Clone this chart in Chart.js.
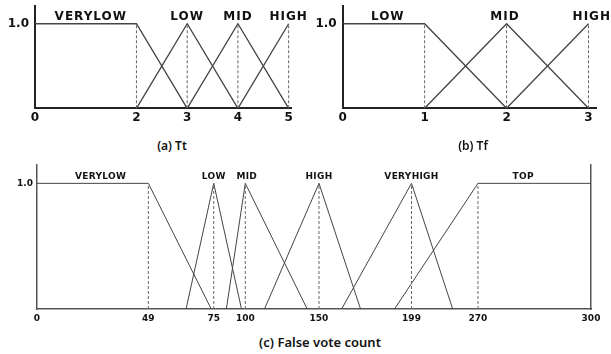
<!DOCTYPE html>
<html>
<head>
<meta charset="utf-8">
<script src="https://cdn.jsdelivr.net/npm/chart.js@4.4.0/dist/chart.umd.min.js"></script>
<style>
  body { margin: 0; background: #fff; width: 611px; height: 354px; position: relative; overflow: hidden; }
  canvas { position: absolute; }
  .cap { position: absolute; font-family: "Noto Sans", sans-serif; font-weight: 600; color: #111; white-space: nowrap; transform: translate(-50%, -50%); }
</style>
</head>
<body>
<canvas id="chartTt" width="320" height="130" style="left:0;top:0"></canvas>
<canvas id="chartTf" width="311" height="130" style="left:300px;top:0"></canvas>
<canvas id="chartVotes" width="611" height="175" style="left:0;top:155px"></canvas>
<div class="cap" style="left:172px;top:145px;font-size:12px">(a) Tt</div>
<div class="cap" style="left:473px;top:145px;font-size:12px">(b) Tf</div>
<div class="cap" style="left:320px;top:342px;font-size:13px">(c) False vote count</div>
<script>
// (a) Tt
const ttTicks = [0, 2, 3, 4, 5];
const ttNames = ['VERYLOW', 'LOW', 'MID', 'HIGH'];
const ttNameAt = [1.1, 3, 4, 5];
const ttVeryLowX = [0, 2, 3];
const ttVeryLowY = [1, 1, 0];
const ttLowX = [2, 3, 4];
const ttLowY = [0, 1, 0];
const ttMidX = [3, 4, 5];
const ttMidY = [0, 1, 0];
const ttHighX = [4, 5];
const ttHighY = [0, 1];
const ttGuides = [2, 3, 4, 5];

// (b) Tf
const tfTicks = [0, 1, 2, 3];
const tfNames = ['LOW', 'MID', 'HIGH'];
const tfNameAt = [0.55, 1.98, 3.04];
const tfLowX = [0, 1, 2];
const tfLowY = [1, 1, 0];
const tfMidX = [1, 2, 3];
const tfMidY = [0, 1, 0];
const tfHighX = [2, 3];
const tfHighY = [0, 1];
const tfGuides = [1, 2, 3];

// (c) False vote count
const fvTicks = [0, 49, 75, 100, 150, 199, 270, 300];
const fvNames = ['VERYLOW', 'LOW', 'MID', 'HIGH', 'VERYHIGH', 'TOP'];
const fvNameAt = [28, 75, 101, 150, 199, 282];
const fvVeryLowX = [0, 49, 74];
const fvVeryLowY = [1, 1, 0];
const fvLowX = [64, 75, 97];
const fvLowY = [0, 1, 0];
const fvMidX = [85, 100, 142];
const fvMidY = [0, 1, 0];
const fvHighX = [113, 150, 172];
const fvHighY = [0, 1, 0];
const fvVeryHighX = [162, 199, 243];
const fvVeryHighY = [0, 1, 0];
const fvTopX = [190, 270, 300];
const fvTopY = [0, 1, 1];
const fvGuides = [49, 75, 100, 150, 199, 270];

// the vote axis in the figure is schematic, not linear: where each tick sits along the axis
const voteAxisFrac = [0, 0.201, 0.319, 0.376, 0.509, 0.676, 0.796, 1];

function warp(v, from, to) {
    let i = 1;
    while (i < from.length - 1 && v > from[i]) i++;
    const t = (v - from[i - 1]) / (from[i] - from[i - 1]);
    return to[i - 1] + t * (to[i] - to[i - 1]);
}

class PiecewiseScale extends Chart.LinearScale {
    getPixelForValue(value) {
        if (value === null || value === undefined || isNaN(value)) return NaN;
        return this.getPixelForDecimal(warp(value, fvTicks, voteAxisFrac));
    }
    getValueForPixel(pixel) {
        return warp(this.getDecimalForPixel(pixel), voteAxisFrac, fvTicks);
    }
}
PiecewiseScale.id = 'piecewise';
PiecewiseScale.defaults = {};
Chart.register(PiecewiseScale);

function pts(xs, ys) {
    return xs.map((x, i) => ({ x: x, y: ys[i] }));
}

function lineSet(xs, ys, width) {
    return { data: pts(xs, ys), showLine: true, borderColor: '#444', borderWidth: width, pointRadius: 0, fill: false };
}

function guideSet(x) {
    return { data: pts([x, x], [0, 1]), showLine: true, borderColor: '#666', borderWidth: 1, borderDash: [3, 2], pointRadius: 0, fill: false };
}

function namesPlugin(names, xs, font, spacing) {
    return {
        id: 'setNames',
        afterDraw(chart) {
            const ctx = chart.ctx;
            const sx = chart.scales.x;
            const sy = chart.scales.y;
            ctx.save();
            ctx.font = font;
            ctx.fillStyle = '#111';
            ctx.textAlign = 'center';
            ctx.textBaseline = 'alphabetic';
            ctx.letterSpacing = spacing;
            names.forEach((n, i) => {
                ctx.fillText(n, sx.getPixelForValue(xs[i]), sy.getPixelForValue(1) - 4);
            });
            ctx.restore();
        }
    };
}

function makeChart(id, o) {
    const tickFont = { family: 'DejaVu Sans', size: o.fontSize, weight: 'bold' };
    const scales = {
        x: {
            type: o.xType,
            min: 0,
            max: o.xMax,
            grid: { display: false, drawTicks: false },
            border: { display: true, color: o.axisColor, width: o.axisWidth },
            ticks: { font: tickFont, color: '#111', padding: o.xPad, maxRotation: 0, autoSkip: false, callback: v => String(v) },
            afterBuildTicks: s => { s.ticks = o.ticks.map(v => ({ value: v })); },
            afterFit: s => { s.height = o.xHeight; s.paddingLeft = 0; s.paddingRight = 0; }
        },
        y: {
            min: 0,
            max: o.yMax,
            grid: { display: false, drawTicks: false },
            border: { display: true, color: o.axisColor, width: o.axisWidth },
            ticks: { font: tickFont, color: '#111', padding: o.yPad, callback: v => Number(v).toFixed(1) },
            afterBuildTicks: s => { s.ticks = [{ value: 1 }]; },
            afterFit: s => { s.width = o.yWidth; s.paddingTop = 0; s.paddingBottom = 0; }
        }
    };
    if (o.rightBorder) {
        scales.yr = {
            position: 'right',
            min: 0,
            max: o.yMax,
            grid: { display: false, drawTicks: false },
            border: { display: true, color: o.axisColor, width: o.axisWidth },
            ticks: { display: false },
            afterFit: s => { s.width = 0; s.paddingTop = 0; s.paddingBottom = 0; }
        };
    }
    return new Chart(document.getElementById(id), {
        type: 'scatter',
        data: { datasets: o.datasets },
        options: {
            responsive: false,
            animation: false,
            devicePixelRatio: 1,
            events: [],
            layout: { padding: { top: o.top, right: o.right, left: 0, bottom: 0 } },
            plugins: { legend: { display: false }, tooltip: { enabled: false } },
            scales: scales
        },
        plugins: [namesPlugin(o.names, o.nameAt, o.nameFont, o.nameSpacing)]
    });
}

makeChart('chartTt', {
    xType: 'linear', xMax: 5.06, yMax: 1.21, ticks: ttTicks,
    top: 6, right: 28.3, xHeight: 21.7, yWidth: 35,
    fontSize: 12, xPad: 2, yPad: 6, axisColor: '#222', axisWidth: 2,
    names: ttNames, nameAt: ttNameAt, nameFont: 'bold 12px "DejaVu Sans"', nameSpacing: '1px',
    datasets: ttGuides.map(guideSet).concat([
        lineSet(ttVeryLowX, ttVeryLowY, 1.3),
        lineSet(ttLowX, ttLowY, 1.3),
        lineSet(ttMidX, ttMidY, 1.3),
        lineSet(ttHighX, ttHighY, 1.3)
    ])
});

makeChart('chartTf', {
    xType: 'linear', xMax: 3.1, yMax: 1.21, ticks: tfTicks,
    top: 6, right: 14.3, xHeight: 21.7, yWidth: 42.7,
    fontSize: 12, xPad: 2, yPad: 6, axisColor: '#222', axisWidth: 2,
    names: tfNames, nameAt: tfNameAt, nameFont: 'bold 12px "DejaVu Sans"', nameSpacing: '1px',
    datasets: tfGuides.map(guideSet).concat([
        lineSet(tfLowX, tfLowY, 1.3),
        lineSet(tfMidX, tfMidY, 1.3),
        lineSet(tfHighX, tfHighY, 1.3)
    ])
});

makeChart('chartVotes', {
    xType: 'piecewise', xMax: 300, yMax: 1.146, ticks: fvTicks, rightBorder: true,
    top: 10, right: 20, xHeight: 21, yWidth: 37,
    fontSize: 9, xPad: 4, yPad: 4, axisColor: '#555', axisWidth: 1.5,
    names: fvNames, nameAt: fvNameAt, nameFont: 'bold 9px "DejaVu Sans"', nameSpacing: '0.3px',
    datasets: fvGuides.map(guideSet).concat([
        lineSet(fvVeryLowX, fvVeryLowY, 1),
        lineSet(fvLowX, fvLowY, 1),
        lineSet(fvMidX, fvMidY, 1),
        lineSet(fvHighX, fvHighY, 1),
        lineSet(fvVeryHighX, fvVeryHighY, 1),
        lineSet(fvTopX, fvTopY, 1)
    ])
});
</script>
</body>
</html>
